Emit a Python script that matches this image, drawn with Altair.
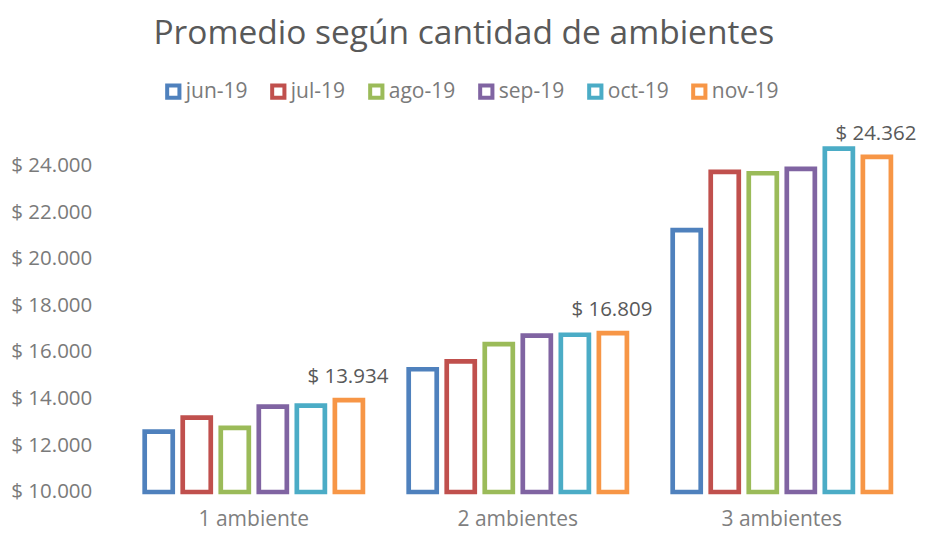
import altair as alt
import pandas as pd

categorias = ["1 ambiente", "2 ambientes", "3 ambientes"]
meses = ["jun-19", "jul-19", "ago-19", "sep-19", "oct-19", "nov-19"]
colores = ["#4F81BD", "#C0504D", "#9BBB59", "#8064A2", "#4BACC6", "#F79646"]

jun_19 = [12590, 15260, 21220]
jul_19 = [13190, 15600, 23720]
ago_19 = [12750, 16340, 23660]
sep_19 = [13660, 16700, 23850]
oct_19 = [13700, 16740, 24720]
nov_19 = [13934, 16809, 24362]

series = [jun_19, jul_19, ago_19, sep_19, oct_19, nov_19]
etiquetado = "nov-19"

ticks_y = [10000, 12000, 14000, 16000, 18000, 20000, 22000, 24000]

rows = []
for mes, vals in zip(meses, series):
    for cat, v in zip(categorias, vals):
        lab = "$ " + f"{v:,}".replace(",", ".") if mes == etiquetado else ""
        rows.append({"ambientes": cat, "mes": mes, "valor": v, "etiqueta": lab})
df = pd.DataFrame(rows)

FONT = "Open Sans"

x_enc = alt.X(
    "ambientes:N",
    sort=categorias,
    scale=alt.Scale(domain=categorias, paddingInner=0.136, paddingOuter=0.068),
    axis=alt.Axis(
        title=None, labelAngle=0, domain=False, ticks=False,
        labelFontSize=21, labelColor="#7f7f7f", labelFont=FONT, labelPadding=17,
    ),
)
xoff_enc = alt.XOffset(
    "mes:N",
    scale=alt.Scale(domain=meses, paddingInner=0.263, paddingOuter=0.13),
)
y_enc = alt.Y(
    "valor:Q",
    scale=alt.Scale(domain=[10000, 25000], zero=False, nice=False),
    axis=alt.Axis(
        title=None, values=ticks_y, domain=False, ticks=False, grid=False,
        labelExpr="'$ ' + replace(format(datum.value, ',.0f'), ',', '.')",
        labelFontSize=20.5, labelColor="#7a7a7a", labelFont=FONT, labelPadding=30,
    ),
)

base = alt.Chart(df)

bars = base.mark_bar(fill="white", strokeWidth=4.7).encode(
    x=x_enc,
    xOffset=xoff_enc,
    y=y_enc,
    y2=alt.datum(10000),
    stroke=alt.Stroke(
        "mes:N",
        scale=alt.Scale(domain=meses, range=colores),
        legend=alt.Legend(
            title=None, orient="none", direction="horizontal",
            legendX=41, legendY=-61, padding=0,
            symbolType="square", symbolFillColor="white", symbolStrokeWidth=4,
            symbolSize=150, labelFontSize=21, labelFont=FONT,
            labelColor="#7a7a7a", columnPadding=16, labelOffset=2,
        ),
    ),
)

labels = base.transform_filter(alt.datum.mes == etiquetado).mark_text(
    baseline="alphabetic", dy=-17, dx=-1, fontSize=20.5, font=FONT, color="#595959"
).encode(
    x=x_enc,
    xOffset=xoff_enc,
    y=y_enc,
    text="etiqueta:N",
)

chart = alt.layer(bars, labels).properties(
    width=792,
    height=350,
    title=alt.TitleParams(
        "Promedio según cantidad de ambientes",
        font=FONT, fontSize=33.5, fontWeight="normal", color="#595959",
        anchor="middle", frame="group", dx=-54, offset=30,
    ),
    autosize=alt.AutoSizeParams(type="none"),
    padding={"left": 113.8, "top": 134, "right": 3, "bottom": 42},
).configure_view(stroke=None).configure_title(
    limit=0
).configure_text(font=FONT)

chart.save("out.html", embed_options={"renderer": "svg", "actions": False})
